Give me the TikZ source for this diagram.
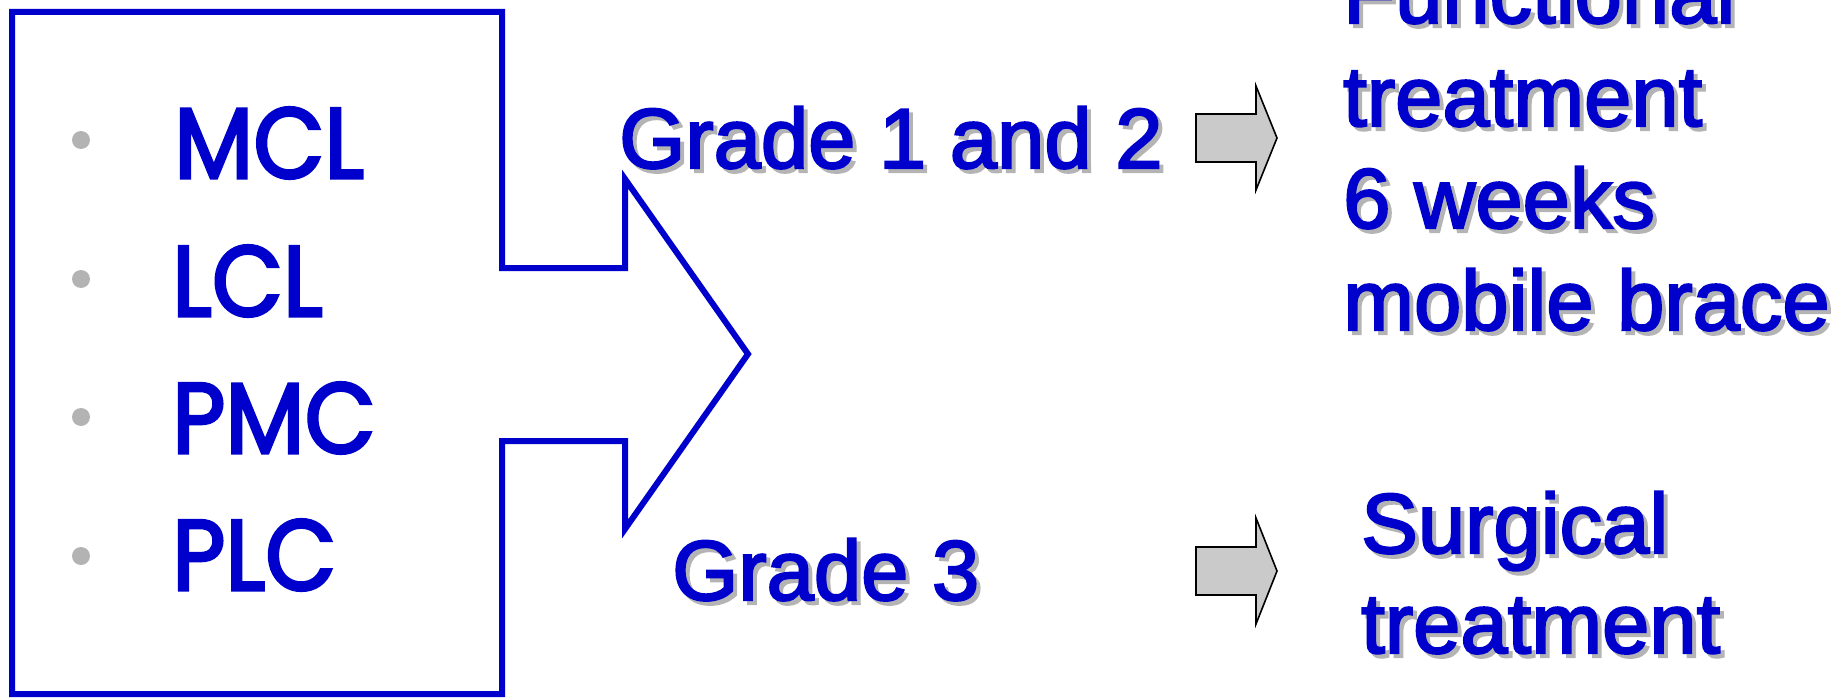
\documentclass[tikz,border=0pt]{standalone}
\usepackage{fontspec}
\usetikzlibrary{calc}
\setmainfont{Liberation Sans}[FakeBold=2.5]
\newfontfamily\comicfont{Poppins}[FakeBold=3]
\definecolor{txtblue}{HTML}{0000CC}
\definecolor{shadowgray}{HTML}{B4B4B4}
\definecolor{bulletgray}{HTML}{B3B3B3}
\definecolor{arrowfill}{HTML}{CACACA}
\newcommand{\shd}[1]{\makebox[0pt][l]{\raisebox{-4pt}{\hspace*{4pt}\textcolor{shadowgray}{#1}}}#1}
\newcommand{\itm}[1]{\scalebox{0.92}[1]{#1}}
\tikzset{
  bigtext/.style={inner sep=0pt, anchor=base west, text=txtblue, font=\fontsize{85}{90}\selectfont},
  itemtext/.style={inner sep=0pt, anchor=base west, text=txtblue, font=\comicfont\fontsize{100}{100}\selectfont},
  bulletdot/.style={circle, fill=bulletgray, inner sep=0pt, minimum size=18pt},
  outline/.style={draw=txtblue, line width=6pt, line join=miter},
  blockarrow/.style={draw=black, fill=arrowfill, line width=1.6pt, line join=miter}
}
\begin{document}
\begin{tikzpicture}[x=1pt,y=-1pt]
\useasboundingbox (0,0) rectangle (1847,698);
% box with integrated big arrow
\coordinate (b1) at (12,12);
\coordinate (b2) at (502,12);
\coordinate (b3) at (502,268);
\coordinate (b4) at (625,268);
\coordinate (b5) at (625,179);
\coordinate (tip) at (748,354);
\coordinate (b6) at (625,529);
\coordinate (b7) at (625,441);
\coordinate (b8) at (502,441);
\coordinate (b9) at (502,694);
\coordinate (b10) at (12,694);
\draw[outline] (b1) -- (b2) -- (b3) -- (b4) -- (b5) -- (tip) -- (b6) -- (b7) -- (b8) -- (b9) -- (b10) -- cycle;
% bullets
\node[bulletdot] (d1) at (81,140) {};
\node[bulletdot] (d2) at (81,279) {};
\node[bulletdot] (d3) at (81,417) {};
\node[bulletdot] (d4) at (81,556) {};
\node[itemtext] (i1) at (174,178) {\itm{MCL}};
\node[itemtext] (i2) at (172,316) {\itm{LCL}};
\node[itemtext] (i3) at (172,453) {\itm{PMC}};
\node[itemtext] (i4) at (172,590) {\itm{PLC}};
% grade labels
\node[bigtext] (g12) at (619,168) {\shd{Grade 1 and 2}};
\node[bigtext] (g3) at (672,600) {\shd{Grade 3}};
% block arrows
\coordinate (a1) at (1196,138);
\draw[blockarrow] ($(a1)+(0,-24)$) -- ++(60,0) -- ++(0,-28) -- ($(a1)+(81,0)$) -- ($(a1)+(60,52)$) -- ++(0,-28) -- ($(a1)+(0,24)$) -- cycle;
\coordinate (a2) at (1196,571);
\draw[blockarrow] ($(a2)+(0,-24)$) -- ++(60,0) -- ++(0,-29) -- ($(a2)+(81,0)$) -- ($(a2)+(60,53)$) -- ++(0,-29) -- ($(a2)+(0,24)$) -- cycle;
% right texts
\node[bigtext] (f1) at (1343,23) {\shd{Functional}};
\node[bigtext] (f2) at (1343,126) {\shd{treatment}};
\node[bigtext] (f3) at (1343,228) {\shd{6 weeks}};
\node[bigtext] (f4) at (1343,330) {\shd{mobile brace}};
\node[bigtext] (s1) at (1361,553) {\shd{Surgical}};
\node[bigtext] (s2) at (1361,653) {\shd{treatment}};
\end{tikzpicture}
\end{document}
